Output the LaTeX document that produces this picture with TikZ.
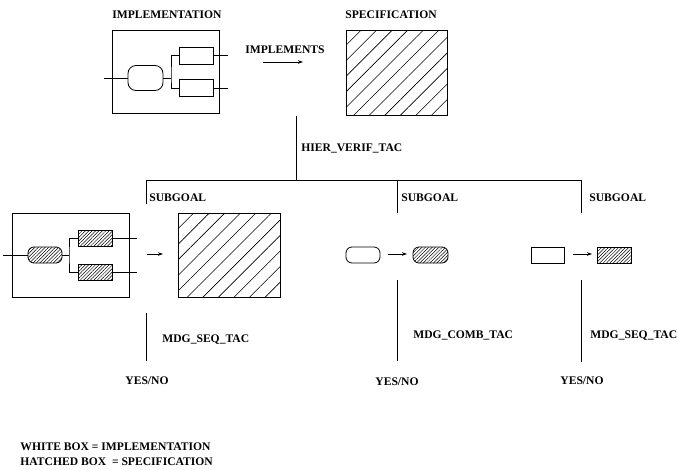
\documentclass[tikz,border=0pt]{standalone}
\usepackage{fontspec}
\setmainfont{Liberation Serif}
\usetikzlibrary{arrows.meta,patterns.meta}
\newcommand\lblfont{\fontsize{11.6}{13}\selectfont\bfseries}
\begin{document}
\begin{tikzpicture}[x=1pt,y=-1pt,line width=0.8pt,
  lbl/.style={font=\lblfont, inner sep=0, text height=8pt, text depth=0pt},
  wbox/.style={draw, inner sep=0, fill=white},
  bighatch/.style={draw, inner sep=0, pattern={Lines[angle=45,distance=11pt,line width=0.6pt]}},
  smallhatch/.style={draw, inner sep=0, pattern={Lines[angle=45,distance=2.4pt,line width=0.5pt]}},
  oval/.style={rounded corners=6pt},
  arr/.style={-{Stealth[length=5pt,width=3.5pt]}}]
\useasboundingbox (0,0) rectangle (678,469);

% ---------- top implementation ----------
\node[lbl,anchor=west] (limpl) at (112,14) {IMPLEMENTATION};
\node[wbox,minimum width=107pt,minimum height=83pt] (impl) at (165.5,71.5) {};
\node[wbox,oval,rounded corners=8pt,minimum width=35pt,minimum height=25pt] (ov1) at (145.5,78) {};
\node[wbox,minimum width=34pt,minimum height=17pt] (r1a) at (196,55.7) {};
\node[wbox,minimum width=34pt,minimum height=17pt] (r1b) at (196,88.3) {};
\coordinate (in1) at (104,78);
\coordinate (br1) at (171,78);
\coordinate (o1a) at (228,55.7);
\coordinate (o1b) at (228,88.3);
\draw (in1) -- (ov1.west);
\draw (ov1.east) -- (br1);
\draw (r1a.west) -| (br1) |- (r1b.west);
\draw (r1a.east) -- (o1a);
\draw (r1b.east) -- (o1b);

% IMPLEMENTS arrow
\node[lbl,anchor=west] (limps) at (245,49) {IMPLEMENTS};
\coordinate (a0s) at (263,62);
\coordinate (a0e) at (303,62);
\draw[arr] (a0s) -- (a0e);

% ---------- specification ----------
\node[lbl,anchor=west] (lspec) at (345,14) {SPECIFICATION};
\node[bighatch,minimum width=101pt,minimum height=85pt] (spec) at (396.5,72.5) {};

% ---------- tree ----------
\node[lbl,anchor=west] (lhier) at (301,147) {HIER\_VERIF\_TAC};
\coordinate (t0) at (296,116);
\coordinate (t1) at (296,180);
\coordinate (c1) at (146,180);
\coordinate (c2) at (397,180);
\coordinate (c3) at (581,180);
\coordinate (d1) at (146,204);
\coordinate (d2) at (397,213);
\coordinate (d3) at (581,213);
\draw (t0) -- (t1);
\draw (d1) -- (c1) -- (c3) -- (d3);
\draw (c2) -- (d2);
\node[lbl,anchor=west] (sg1) at (149,197) {SUBGOAL};
\node[lbl,anchor=west] (sg2) at (401,197) {SUBGOAL};
\node[lbl,anchor=west] (sg3) at (589,197) {SUBGOAL};

% ---------- subgoal 1 ----------
\node[wbox,minimum width=117pt,minimum height=84pt] (imp2) at (70.5,255) {};
\node[smallhatch,oval,minimum width=34pt,minimum height=16pt] (ov2) at (45,255) {};
\node[smallhatch,minimum width=34pt,minimum height=16pt] (r2a) at (95,238) {};
\node[smallhatch,minimum width=34pt,minimum height=16pt] (r2b) at (95,272) {};
\coordinate (in2) at (3,255);
\coordinate (br2) at (69,255);
\coordinate (o2a) at (137,238);
\coordinate (o2b) at (137,272);
\draw (in2) -- (ov2.west);
\draw (ov2.east) -- (br2);
\draw (r2a.west) -| (br2) |- (r2b.west);
\draw (r2a.east) -- (o2a);
\draw (r2b.east) -- (o2b);
\coordinate (a1s) at (147,254);
\coordinate (a1e) at (163,254);
\draw[arr] (a1s) -- (a1e);
\node[bighatch,minimum width=102pt,minimum height=84pt] (spec2) at (229,255) {};

\coordinate (e1a) at (146,313);
\coordinate (e1b) at (146,361);
\draw (e1a) -- (e1b);
\node[lbl,anchor=west] (tac1) at (162,338) {MDG\_SEQ\_TAC};
\node[lbl] (yn1) at (147,380) {YES/NO};

% ---------- subgoal 2 ----------
\node[wbox,oval,minimum width=34pt,minimum height=16pt] (ov3) at (363,255) {};
\node[smallhatch,oval,minimum width=35pt,minimum height=16pt] (ov4) at (430.5,255) {};
\coordinate (a2s) at (388,254);
\coordinate (a2e) at (407,254);
\draw[arr] (a2s) -- (a2e);
\coordinate (e2a) at (397,280);
\coordinate (e2b) at (397,361);
\draw (e2a) -- (e2b);
\node[lbl,anchor=west] (tac2) at (413,334) {MDG\_COMB\_TAC};
\node[lbl] (yn2) at (397,381) {YES/NO};

% ---------- subgoal 3 ----------
\node[wbox,minimum width=33pt,minimum height=16pt] (r5) at (547.5,255) {};
\node[smallhatch,minimum width=34pt,minimum height=16pt] (r6) at (614,255) {};
\coordinate (a3s) at (573,254);
\coordinate (a3e) at (592,254);
\draw[arr] (a3s) -- (a3e);
\coordinate (e3a) at (581,280);
\coordinate (e3b) at (581,362);
\draw (e3a) -- (e3b);
\node[lbl,anchor=west] (tac3) at (590,334) {MDG\_SEQ\_TAC};
\node[lbl] (yn3) at (582,380) {YES/NO};

% ---------- legend ----------
\node[lbl,anchor=west] (leg1) at (20,446) {WHITE BOX = IMPLEMENTATION};
\node[lbl,anchor=west] (leg2) at (20,461) {HATCHED BOX\ \ = SPECIFICATION};
\end{tikzpicture}
\end{document}
